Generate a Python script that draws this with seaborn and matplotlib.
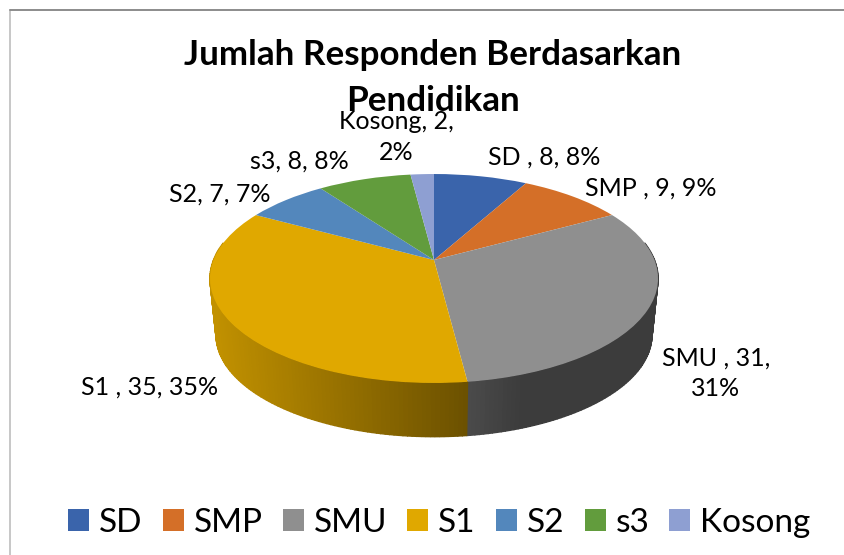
import numpy as np
import seaborn as sns
from matplotlib import pyplot as plt
from matplotlib.transforms import Transform

# data
categories = ["SD ", "SMP ", "SMU ", "S1 ", "S2", "s3", "Kosong"]
values = [8, 9, 31, 35, 7, 8, 2]
legend_labels = ["SD", "SMP", "SMU", "S1", "S2", "s3", "Kosong"]
colors = ["#3A64AB", "#D46F28", "#8F8F8F", "#E0A800", "#5387BC", "#629C3D", "#8E9FD2"]
title = "Jumlah Responden Berdasarkan\nPendidikan"

# where the slice labels sit, in pixels, and where they wrap
label_pos = [(544, 157), (651, 188), (716, 373), (150, 387), (220, 194), (299, 161), (396, 137)]
label_wrap = {"SMU ": "SMU , 31,\n31%", "Kosong": "Kosong, 2,\n2%"}

CX = 434
TOP_Y = 260
BOTTOM_Y = 317
TILT = 0.177


class Perspective(Transform):
    # tilted disc: unit circle to pixels
    input_dims = 2
    output_dims = 2

    def __init__(self, w, h, cy):
        super().__init__()
        self.w, self.h, self.cy = w, h, cy

    def transform_non_affine(self, xy):
        xy = np.asarray(xy, dtype=float)
        d = 1 + TILT * xy[:, 1]
        return np.column_stack([CX + self.w * xy[:, 0] / d, self.cy - self.h * xy[:, 1] / d])


top_disc = Perspective(220.5, 101.2, TOP_Y)
bottom_disc = Perspective(214.5, 98.5, BOTTOM_Y)


def shade(x):
    return np.interp(x, [210, 467, 468, 520, 660], [0.87, 0.48, 0.52, 0.42, 0.42])


sns.set_theme(style="white")
plt.rcParams["font.family"] = ["Lato", "DejaVu Sans"]
fig = plt.figure(figsize=(8.45, 5.55), dpi=100)
ax = fig.add_axes([0, 0, 1, 1])
palette = sns.color_palette(colors)

wedges, _ = ax.pie(values, colors=palette, startangle=90, counterclock=False, wedgeprops={"linewidth": 0})
for w in wedges:
    w.set_transform(top_disc + ax.transData)
    w.set_zorder(3)

ax.set_aspect("auto")
ax.set_xlim(0, 845)
ax.set_ylim(555, 0)
ax.axis("off")

# side wall, cut in thin strips so the shading can run along it
edges = np.cumsum([0] + values) / sum(values) * 360
for i, col in enumerate(palette):
    a, b = max(edges[i], 80), min(edges[i + 1], 280)
    if a >= b:
        continue
    steps = np.arange(a, b + 1.0, 1.0)
    steps[-1] = b
    for t0, t1 in zip(steps[:-1], steps[1:]):
        ang = np.radians([t0, t1])
        unit = np.column_stack([np.sin(ang), np.cos(ang)])
        upper = top_disc.transform_non_affine(unit)
        lower = bottom_disc.transform_non_affine(unit)
        quad = np.vstack([upper, lower[::-1]])
        c = np.array(col) * shade(quad[:, 0].mean())
        ax.fill(quad[:, 0], quad[:, 1], color=c, lw=1.0, zorder=2)

# chart frame, only the left and top edges show
ax.plot([10, 10], [555, 10], color="#BDBDBD", lw=1.2, zorder=1)
ax.plot([10, 845], [10, 10], color="#8C8C8C", lw=1.4, zorder=1)

ax.text(433, 78, title, ha="center", va="center", fontsize=25.2, fontweight="bold", color="black", linespacing=1.55, zorder=4)

for cat, val, (x, y) in zip(categories, values, label_pos):
    pct = round(val / sum(values) * 100)
    txt = label_wrap.get(cat, f"{cat}, {val}, {pct}%")
    ax.text(x, y, txt, ha="center", va="center", fontsize=18, color="black", linespacing=1.4, zorder=5)

ax.legend(wedges, legend_labels, ncol=7, loc="center", bbox_to_anchor=(439.5 / 845, 1 - 523 / 555),
          frameon=False, fontsize=24, handlelength=0.63, handleheight=0.63, handletextpad=0.3,
          columnspacing=0.6, borderpad=0, labelcolor="black")

plt.savefig("out.png", dpi=100)
